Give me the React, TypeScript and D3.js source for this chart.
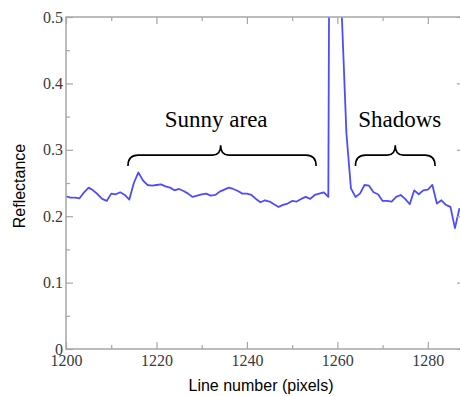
import * as d3 from "d3";
import { useRef, useEffect } from "react";

// reflectance profile along the image line (pixel number -> reflectance)
const lineNumbers = d3.range(1200, 1288);
const reflectance = [
  0.230, 0.228, 0.228, 0.227, 0.236, 0.243, 0.239, 0.233, 0.226, 0.223,
  0.234, 0.233, 0.236, 0.232, 0.225, 0.250, 0.266, 0.254, 0.247, 0.246,
  0.247, 0.248, 0.245, 0.243, 0.239, 0.241, 0.238, 0.234, 0.229, 0.231,
  0.233, 0.234, 0.231, 0.232, 0.237, 0.240, 0.243, 0.241, 0.238, 0.234,
  0.234, 0.232, 0.226, 0.221, 0.224, 0.222, 0.218, 0.214, 0.217, 0.219,
  0.223, 0.222, 0.226, 0.229, 0.226, 0.232, 0.234, 0.236, 0.229, 2.000,
  2.000, 0.500, 0.325, 0.242, 0.229, 0.234, 0.247, 0.246, 0.236, 0.233,
  0.223, 0.223, 0.222, 0.229, 0.232, 0.226, 0.218, 0.239, 0.233, 0.239,
  0.240, 0.247, 0.219, 0.224, 0.217, 0.214, 0.182, 0.212,
];

const xMajorTicks = [1200, 1220, 1240, 1260, 1280];
const xMinorTicks = [1210, 1230, 1250, 1270];
const yMajorTicks = [0, 0.1, 0.2, 0.3, 0.4, 0.5];
const yMinorTicks = [0.05, 0.15, 0.25, 0.35, 0.45];

// brace annotations in data units
const braceLabels = ["Sunny area", "Shadows"];
const braceStart = [1213.7, 1264];
const braceEnd = [1255.3, 1281.6];
const braceTip = [1234.2, 1272.8];
const labelCenter = [1233.2, 1273.8];

export default function App() {
  const svgRef = useRef<SVGSVGElement>(null);

  useEffect(() => {
    const svg = d3.select(svgRef.current);
    svg.selectAll("*").remove();

    const x = d3.scaleLinear().domain([1200, 1288]).range([66, 464]);
    const y = d3.scaleLinear().domain([0, 0.5]).range([349, 17]);
    const axisColor = "#a6a6a6";
    const serif = "'Liberation Serif', 'Times New Roman', serif";
    const sans = "'Liberation Sans', Arial, sans-serif";

    svg.append("defs").append("clipPath").attr("id", "plot-clip")
      .append("rect").attr("x", 66).attr("y", 17).attr("width", 398).attr("height", 332);

    // the curve
    const data = lineNumbers.map((n, i) => ({ n, v: reflectance[i] }));
    svg.append("path").datum(data)
      .attr("clip-path", "url(#plot-clip)")
      .attr("fill", "none").attr("stroke", "#4d4dff").attr("stroke-width", 1.8)
      .attr("stroke-linejoin", "round")
      .attr("d", d3.line<any>().x(d => x(d.n)).y(d => y(d.v)));

    // frame
    svg.append("rect").attr("x", 66).attr("y", 17).attr("width", 398).attr("height", 332)
      .attr("fill", "none").attr("stroke", axisColor).attr("stroke-width", 1.5);

    const styleAxis = (g: any) => {
      g.attr("font-family", serif).attr("font-size", 16);
      g.select(".domain").remove();
      g.selectAll("line").attr("stroke", axisColor).attr("stroke-width", 1.2);
      g.selectAll("text").attr("fill", "#3a3a3a");
    };

    // bottom axis with labels, ticks pointing inward
    svg.append("g").attr("transform", "translate(0,349)")
      .call(d3.axisBottom(x).tickValues(xMajorTicks).tickSize(-7).tickPadding(6).tickFormat(d3.format("d")))
      .call(styleAxis);
    svg.append("g").attr("transform", "translate(0,349)")
      .call(d3.axisBottom(x).tickValues(xMinorTicks).tickSize(-4).tickFormat(() => ""))
      .call(styleAxis);

    // top axis
    svg.append("g").attr("transform", "translate(0,17)")
      .call(d3.axisTop(x).tickValues(xMajorTicks).tickSize(-7).tickFormat(() => ""))
      .call(styleAxis);
    svg.append("g").attr("transform", "translate(0,17)")
      .call(d3.axisTop(x).tickValues(xMinorTicks).tickSize(-4).tickFormat(() => ""))
      .call(styleAxis);

    // left axis with labels
    svg.append("g").attr("transform", "translate(66,0)")
      .call(d3.axisLeft(y).tickValues(yMajorTicks).tickSize(-7).tickPadding(3).tickFormat(d => d3.format("")(+d)))
      .call(styleAxis);
    svg.append("g").attr("transform", "translate(66,0)")
      .call(d3.axisLeft(y).tickValues(yMinorTicks).tickSize(-4).tickFormat(() => ""))
      .call(styleAxis);

    // right axis
    svg.append("g").attr("transform", "translate(464,0)")
      .call(d3.axisRight(y).tickValues(yMajorTicks).tickSize(-7).tickFormat(() => ""))
      .call(styleAxis);
    svg.append("g").attr("transform", "translate(464,0)")
      .call(d3.axisRight(y).tickValues(yMinorTicks).tickSize(-4).tickFormat(() => ""))
      .call(styleAxis);

    // axis titles
    svg.append("text").attr("x", 261).attr("y", 391).attr("text-anchor", "middle")
      .style("font-family", sans).style("font-size", "16px").attr("fill", "#000")
      .text("Line number (pixels)");
    svg.append("text").attr("transform", "translate(25,186) rotate(-90)").attr("text-anchor", "middle")
      .style("font-family", sans).style("font-size", "16px").attr("fill", "#000")
      .text("Reflectance");

    // braces and their labels
    const hy = y(0.292), endY = y(0.2756), tipY = y(0.307);
    braceLabels.forEach((label, i) => {
      const x0 = x(braceStart[i]), x1 = x(braceEnd[i]), xm = x(braceTip[i]);
      const r = 10;
      const d = `M${x0},${endY} Q${x0},${hy} ${x0 + r},${hy} L${xm - 8},${hy} Q${xm},${hy} ${xm},${tipY}` +
        ` Q${xm},${hy} ${xm + 8},${hy} L${x1 - r},${hy} Q${x1},${hy} ${x1},${endY}`;
      svg.append("path").attr("d", d).attr("fill", "none").attr("stroke", "#000").attr("stroke-width", 1.6);
      svg.append("text").attr("x", x(labelCenter[i])).attr("y", y(0.335)).attr("text-anchor", "middle")
        .style("font-family", serif).style("font-size", "23px").attr("fill", "#000")
        .text(label);
    });
  }, []);

  return (
    <svg ref={svgRef} width={460} height={396}
      style={{ position: "absolute", left: 0, top: 0, background: "#fff" }} />
  );
}
